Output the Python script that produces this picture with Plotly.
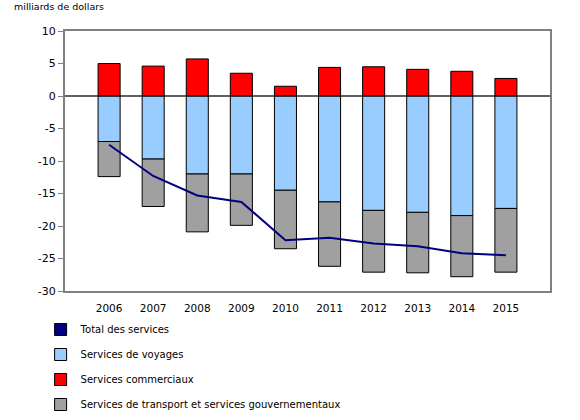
"""Balance des services du Canada, 2006-2015"""

import plotly.graph_objects as go

annees = [2006, 2007, 2008, 2009, 2010, 2011, 2012, 2013, 2014, 2015]
voyages = [-7.0, -9.7, -12.0, -12.0, -14.5, -16.3, -17.6, -17.9, -18.4, -17.3]
commerciaux = [5.0, 4.6, 5.7, 3.5, 1.5, 4.4, 4.5, 4.1, 3.8, 2.7]
transport = [-5.4, -7.3, -8.9, -7.9, -9.0, -9.9, -9.5, -9.3, -9.4, -9.8]
total = [-7.5, -12.3, -15.3, -16.3, -22.2, -21.8, -22.7, -23.1, -24.2, -24.5]

y_ticks = [10, 5, 0, -5, -10, -15, -20, -25, -30]
y_labels = [str(v) for v in y_ticks]

FONT = "Verdana, DejaVu Sans, sans-serif"
contour = dict(color="#000000", width=1)

fig = go.Figure()

# entrée de légende carrée pour la ligne du total
fig.add_trace(go.Bar(x=[None], y=[None], name="Total des services",
                     marker=dict(color="#000080", line=contour), legendgroup="a"))
fig.add_trace(go.Bar(x=annees, y=voyages, name="Services de voyages", width=0.5,
                     marker=dict(color="#99CCFF", line=contour), legendgroup="b"))
fig.add_trace(go.Bar(x=annees, y=commerciaux, name="Services commerciaux", width=0.5,
                     marker=dict(color="#FF0000", line=contour), legendgroup="c"))
fig.add_trace(go.Bar(x=annees, y=transport, width=0.5,
                     name="Services de transport et services gouvernementaux",
                     marker=dict(color="#A0A0A0", line=contour), legendgroup="d"))
fig.add_trace(go.Scatter(x=annees, y=total, mode="lines", showlegend=False,
                         line=dict(color="#000080", width=2)))

fig.update_layout(
    width=580, height=420,
    barmode="relative",
    plot_bgcolor="white", paper_bgcolor="white",
    margin=dict(l=65, r=30, t=31, b=129, autoexpand=False),
    font=dict(family=FONT, size=11, color="#000000"),
    legend=dict(xref="container", yref="container", x=0.07, y=0.25,
                xanchor="left", yanchor="top",
                traceorder="grouped", tracegroupgap=6, itemwidth=30,
                font=dict(family=FONT, size=10)),
    annotations=[dict(text="milliards de dollars", xref="paper", yref="paper",
                      x=-0.109, y=1.065, xanchor="left", yanchor="bottom",
                      showarrow=False, font=dict(family=FONT, size=9.5))],
)
fig.update_xaxes(range=[2005, 2016], tickvals=annees, showgrid=False,
                 ticks="outside", ticklen=6, tickcolor="rgba(0,0,0,0)",
                 tickfont=dict(size=10.5),
                 showline=True, linecolor="#808080", linewidth=2, mirror=True,
                 zeroline=False)
fig.update_yaxes(range=[-30, 10], tickvals=y_ticks, ticktext=y_labels,
                 ticks="outside", ticklen=5, tickcolor="#808080", showgrid=False,
                 showline=True, linecolor="#808080", linewidth=2, mirror=True,
                 zeroline=True, zerolinecolor="#606060", zerolinewidth=1.5)

fig.write_html("out.html", config={"displayModeBar": False},
               post_script="document.body.style.margin='0';")
